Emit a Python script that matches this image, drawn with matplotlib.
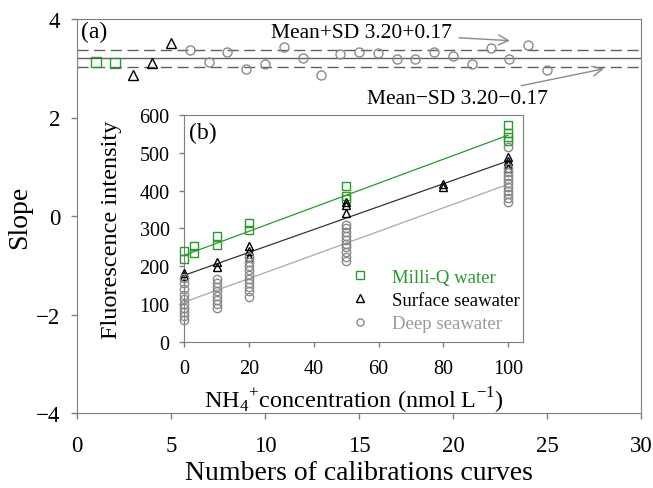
import matplotlib
matplotlib.use("Agg")
import matplotlib.pyplot as plt
import numpy as np

plt.rcParams['font.family'] = ['Liberation Serif', 'DejaVu Serif']
plt.rcParams['mathtext.fontset'] = 'custom'
plt.rcParams['mathtext.rm'] = 'Liberation Serif'

# ---- panel (a): slopes of calibration curves ----
a_milliq_x = [1, 2]
a_milliq_y = [3.13, 3.10]
a_surface_x = [3, 4, 5]
a_surface_y = [2.86, 3.10, 3.52]
a_deep_x = list(range(6, 26))
a_deep_y = [3.37, 3.13, 3.33, 2.98, 3.09, 3.43, 3.21, 2.87, 3.28, 3.34,
            3.30, 3.19, 3.19, 3.32, 3.25, 3.08, 3.41, 3.19, 3.47, 2.97]
slope_mean = 3.20
slope_sd = 0.17

# ---- panel (b): calibration data ----
mq_conc = [0, 0, 3, 3, 10, 10, 20, 20, 50, 50, 50, 100, 100, 100, 100]
mq_val = [240, 220, 253, 234, 280, 256, 315, 295, 413, 385, 378, 574, 552, 541, 532]
sf_conc = [0, 0, 10, 10, 20, 20, 20, 50, 50, 50, 80, 80, 100, 100, 100, 100]
sf_val = [181, 174, 212, 198, 254, 240, 225, 371, 363, 340, 417, 410, 490, 480, 470, 460]
dp_conc = ([0] * 10 + [10] * 8 + [20] * 10 + [50] * 10 + [100] * 11)
dp_val = ([170, 155, 140, 125, 112, 100, 90, 80, 68, 57,
           165, 155, 145, 135, 120, 110, 100, 90,
           225, 210, 200, 190, 178, 165, 155, 145, 135, 118,
           310, 300, 290, 280, 270, 260, 250, 238, 225, 215,
           515, 460, 450, 440, 430, 420, 410, 400, 390, 380, 370])
fit_intercepts = {'mq': 229, 'sf': 176, 'dp': 105}
fit_slopes = {'mq': 3.18, 'sf': 3.03, 'dp': 3.12}

GREEN = '#2a9a2a'
GREY = '#8a8a8a'
SPINE = '#7f7f7f'

fig = plt.figure(figsize=(6.53, 4.89), dpi=100)
W, H = 653, 489

def rect(l, t, r, b):
    return [l / W, 1 - b / H, (r - l) / W, (b - t) / H]

ax = fig.add_axes(rect(77, 20, 641, 414))
ax.set_xlim(0, 30)
ax.set_ylim(-4, 4)
ax.set_xticks(range(0, 31, 5))
ax.set_yticks([-4, -2, 0, 2, 4])
ax.tick_params(direction='out', length=4, width=1, color=SPINE, labelsize=16.5)
ax.tick_params(axis='x', pad=12)
ax.tick_params(axis='y', pad=8)
for s in ax.spines.values():
    s.set_color(SPINE)
ax.set_xlabel('Numbers of calibrations curves', fontsize=20, labelpad=3)
ax.set_ylabel('Slope', fontsize=20, labelpad=3)

ax.axhline(slope_mean, color='#606060', lw=1.0, zorder=1)
ax.axhline(slope_mean + slope_sd, color='#606060', lw=1.0, ls=(0, (8, 4)), zorder=1)
ax.axhline(slope_mean - slope_sd, color='#606060', lw=1.0, ls=(0, (8, 4)), zorder=1)

mk = dict(ls='none', mfc='none', ms=6.5, mew=1.0, zorder=3)
ax.plot(a_milliq_x, a_milliq_y, marker='s', mec=GREEN, **mk)
ax.plot(a_surface_x, a_surface_y, marker='^', mec='black', **mk)
ax.plot(a_deep_x, a_deep_y, marker='o', mec=GREY, **mk)

ax.text(0.2, 3.74, '(a)', fontsize=17, va='center', ha='left')
ax.annotate('Mean+SD 3.20+0.17', xy=(23.03, 3.56), xytext=(19.95, 3.73),
            fontsize=15.5, ha='right', va='center',
            arrowprops=dict(arrowstyle='->', color=GREY, lw=1.0, shrinkA=3, shrinkB=0,
                            mutation_scale=18))
ax.annotate('Mean\u2212SD 3.20\u22120.17', xy=(28.03, 2.99), xytext=(25.05, 2.38),
            fontsize=15.5, ha='right', va='center',
            arrowprops=dict(arrowstyle='->', color=GREY, lw=1.0, shrinkA=3, shrinkB=0,
                            mutation_scale=18))

# ---- inset ----
ax2 = fig.add_axes(rect(184.3, 116.2, 522.7, 342.7))
ax2.set_xlim(0, 104.5)
ax2.set_ylim(0, 600)
ax2.set_xticks(range(0, 101, 20))
ax2.set_yticks(range(0, 601, 100))
ax2.tick_params(direction='out', length=3.5, width=1, color=SPINE, labelsize=14.5)
ax2.tick_params(axis='x', pad=9)
ax2.tick_params(axis='y', pad=7)
for s in ax2.spines.values():
    s.set_color(SPINE)
ax2.set_xlabel(r'NH$_4$$^{+}$concentration (nmol L$^{-1}$)', fontsize=17.5, labelpad=5)
ax2.set_ylabel('Fluorescence intensity', fontsize=17.5, labelpad=13)

xx = np.array([0, 100])
ax2.plot(xx, fit_intercepts['mq'] + fit_slopes['mq'] * xx, color=GREEN, lw=0.9, zorder=2)
ax2.plot(xx, fit_intercepts['sf'] + fit_slopes['sf'] * xx, color='#333333', lw=0.9, zorder=2)
ax2.plot(xx, fit_intercepts['dp'] + fit_slopes['dp'] * xx, color='#aaaaaa', lw=0.9, zorder=2)

mk2 = dict(ls='none', mfc='none', ms=6, mew=1.0, zorder=3, clip_on=False)
h1, = ax2.plot(mq_conc, mq_val, marker='s', mec=GREEN, label='Milli-Q water', **mk2)
h2, = ax2.plot(sf_conc, sf_val, marker='^', mec='black', label='Surface seawater', **mk2)
h3, = ax2.plot(dp_conc, dp_val, marker='o', mec=GREY, label='Deep seawater', **mk2)

leg = ax2.legend(handles=[h1, h2, h3], loc='upper left',
                 bbox_to_anchor=(350.6 / W, 1 - 269.5 / H), bbox_transform=fig.transFigure,
                 frameon=False, fontsize=13.5, borderpad=0, borderaxespad=0,
                 handlelength=1.0, handletextpad=1.2, labelspacing=0.33,
                 markerscale=0.85)
for t, c in zip(leg.get_texts(), [GREEN, 'black', '#999999']):
    t.set_color(c)

ax2.text(1.5, 555, '(b)', fontsize=17, va='center', ha='left')

fig.savefig('out.png', dpi=100)
